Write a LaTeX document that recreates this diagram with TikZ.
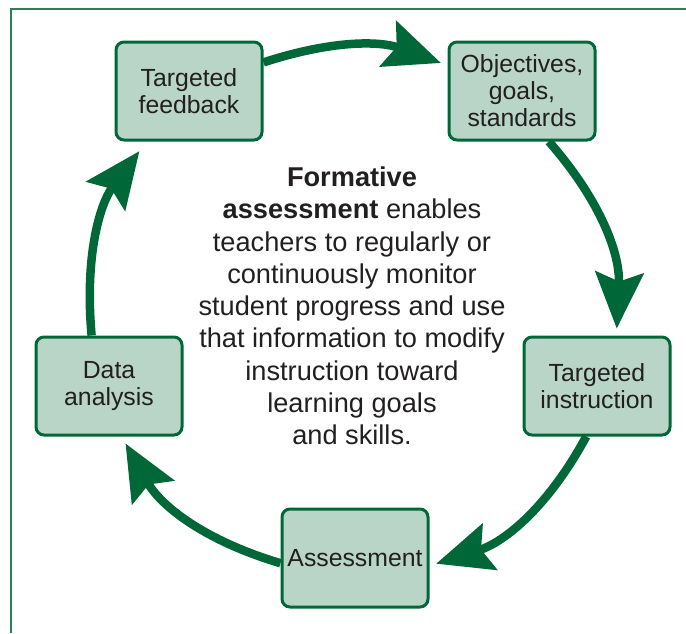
\documentclass[tikz,border=0pt]{standalone}
\usepackage{fontspec}
\setmainfont{Liberation Sans}
\usepackage{xcolor}
\usetikzlibrary{arrows.meta}
\definecolor{cyclegreen}{HTML}{006838}
\definecolor{boxfill}{HTML}{B8D5C8}
\definecolor{framegreen}{HTML}{2A7F55}
\definecolor{textgray}{HTML}{231F20}
\tikzset{
stagebox/.style={rectangle, rounded corners=8pt, draw=cyclegreen, fill=boxfill, line width=3pt, minimum width=146pt, minimum height=98pt, inner sep=0pt, align=center, text=textgray, font=\fontsize{24.8}{27}\selectfont},
centertext/.style={align=center, text=textgray, inner sep=0pt, font=\fontsize{27.2}{32.25}\selectfont},
cyclearrow/.style={draw=cyclegreen, line width=8.5pt, -{Stealth[length=56pt,width=48pt,inset=9pt]}},
}

\begin{document}
\begin{tikzpicture}[x=1pt,y=1pt]
    \useasboundingbox (0,0) rectangle (686,-633);
    \draw[framegreen, line width=2pt] (11.3,-633) -- (11.3,-9) -- (686,-9);

    \node[stagebox] at (189,-91) (fb) {Targeted\\feedback};
    \node[stagebox] at (522,-91) (obj) {Objectives,\\goals,\\standards};
    \node[stagebox] at (597,-386) (instr) {Targeted\\instruction};
    \node[stagebox] at (355,-558) (assess) {Assessment};
    \node[stagebox] at (109,-386) (data) {Data\\analysis};
    \node[centertext] at (352,-306) (summary) {\textbf{Formative}\\\textbf{assessment} enables\\teachers to regularly or\\continuously monitor\\student progress and use\\that information to modify\\instruction toward\\learning goals\\and skills.};

     \draw[cyclearrow, bend left=19, shorten >=7pt] (fb.21) to (obj.161);
     \draw[cyclearrow, bend left=22, shorten >=7pt] (obj.-62) to (instr.69);
     \draw[cyclearrow, bend left=22, shorten >=7pt] (instr.-102) to (assess.-6);
     \draw[cyclearrow, bend left=22, shorten >=8pt] (assess.184) to (data.-76);
     \draw[cyclearrow, bend left=21, shorten >=12pt] (data.109) to (fb.230);
\end{tikzpicture}
\end{document}
